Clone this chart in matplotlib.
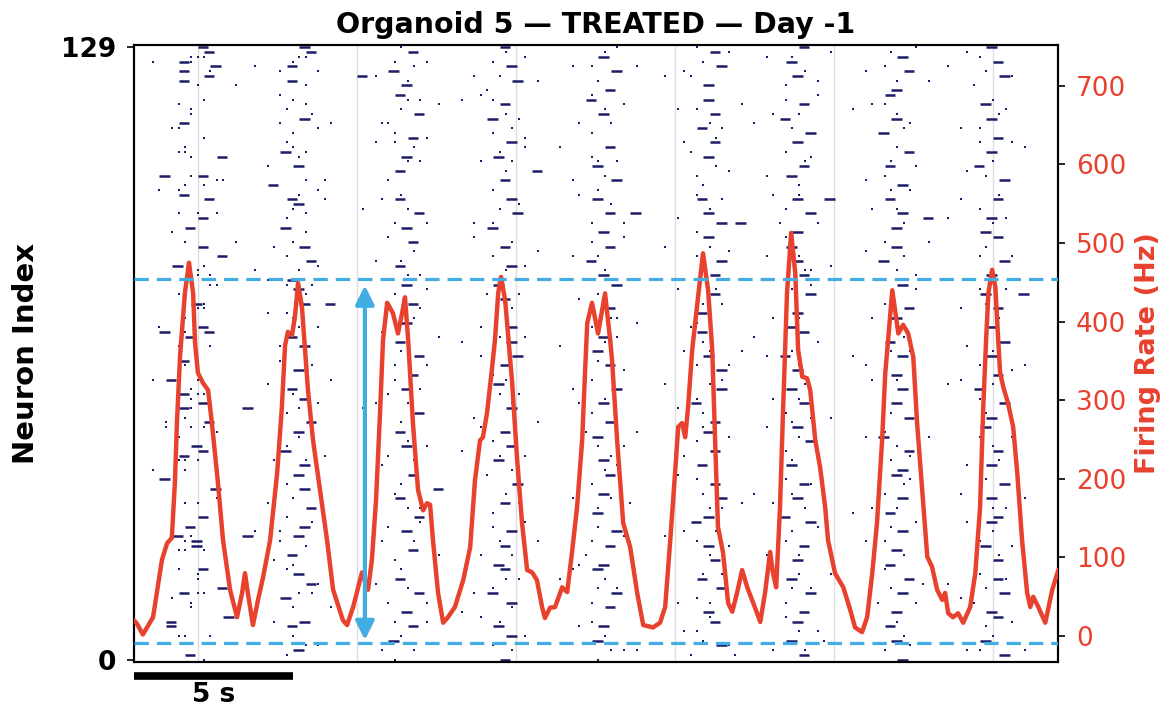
import matplotlib.pyplot as plt

# ------------------------------
# Data
# time axis in seconds from the left edge of the panel
t_max = 29.05
grid_times = [2, 7, 12, 17, 22, 27]

rate_t = [0.0, 0.09, 0.28, 0.60, 0.88, 1.04, 1.19, 1.29, 1.35, 1.45,
          1.60, 1.73, 1.86, 1.92, 2.01, 2.17, 2.33, 2.45, 2.64, 2.80,
          3.02, 3.24, 3.40, 3.49, 3.58, 3.74, 3.90, 4.06, 4.28, 4.50,
          4.65, 4.75, 4.84, 4.97, 5.06, 5.16, 5.28, 5.38, 5.47, 5.63,
          5.85, 6.07, 6.26, 6.57, 6.70, 6.89, 7.17, 7.36, 7.48, 7.61,
          7.74, 7.83, 7.96, 8.14, 8.30, 8.43, 8.52, 8.62, 8.77, 8.93,
          9.09, 9.21, 9.31, 9.40, 9.56, 9.72, 9.87, 10.09, 10.35, 10.57,
          10.72, 10.88, 10.97, 11.10, 11.26, 11.35, 11.45, 11.54, 11.67, 11.82,
          11.89, 12.04, 12.20, 12.36, 12.52, 12.67, 12.83, 12.92, 13.08, 13.24,
          13.46, 13.62, 13.77, 13.93, 14.09, 14.18, 14.25, 14.40, 14.59, 14.81,
          14.97, 15.03, 15.19, 15.38, 15.60, 15.82, 16.01, 16.32, 16.54, 16.70,
          16.86, 17.01, 17.11, 17.23, 17.33, 17.42, 17.55, 17.70, 17.89, 18.05,
          18.18, 18.27, 18.36, 18.52, 18.68, 18.81, 18.96, 19.12, 19.28, 19.47,
          19.69, 19.84, 20.00, 20.09, 20.19, 20.31, 20.41, 20.53, 20.66, 20.79,
          20.88, 21.01, 21.16, 21.26, 21.42, 21.57, 21.73, 21.82, 22.04, 22.30,
          22.52, 22.67, 22.89, 23.05, 23.21, 23.36, 23.52, 23.62, 23.71, 23.84,
          24.03, 24.18, 24.34, 24.50, 24.62, 24.78, 24.94, 25.09, 25.25, 25.41,
          25.50, 25.60, 25.75, 25.91, 26.07, 26.29, 26.45, 26.60, 26.70, 26.79,
          26.86, 26.98, 27.08, 27.17, 27.23, 27.33, 27.48, 27.64, 27.77, 27.92,
          28.08, 28.18, 28.27, 28.43, 28.65, 28.87, 29.06]
rate_hz = [20, 16, 2, 24, 97, 118, 125, 198, 271, 357,
           436, 475, 436, 373, 335, 322, 313, 271, 195, 122,
           59, 24, 55, 80, 55, 14, 46, 75, 122, 207,
           291, 370, 387, 383, 406, 449, 419, 364, 313, 249,
           186, 122, 59, 20, 14, 37, 81, 59, 97, 173,
           288, 377, 424, 411, 385, 411, 431, 377, 271, 186,
           160, 169, 167, 122, 55, 17, 24, 37, 71, 113,
           198, 249, 253, 284, 342, 377, 436, 457, 427, 355,
           322, 228, 144, 84, 81, 71, 37, 23, 36, 37,
           62, 56, 106, 164, 249, 335, 398, 424, 385, 436,
           377, 351, 249, 144, 113, 55, 14, 11, 17, 37,
           122, 207, 266, 271, 253, 291, 364, 419, 487, 440,
           364, 249, 139, 106, 42, 31, 55, 84, 62, 42,
           18, 55, 107, 80, 62, 164, 291, 436, 513, 462,
           364, 330, 328, 313, 249, 215, 164, 122, 80, 62,
           33, 11, 5, 24, 80, 144, 249, 335, 377, 440,
           385, 396, 385, 355, 271, 186, 101, 88, 59, 46,
           55, 29, 24, 29, 17, 37, 80, 164, 291, 377,
           436, 466, 444, 377, 335, 317, 296, 266, 207, 122,
           55, 37, 50, 37, 17, 59, 84]

# dashed reference levels (Hz) and the amplitude arrow
level_hi = 454
level_lo = -9
arrow_t = 7.26

# Raster: one entry per burst, each a list of layers; a layer has one char per
# neuron from 129 down to 0. '.' = nothing, lowercase = single spike,
# uppercase = short run of spikes; letter index = offset from burst start in 0.2 s.
burst_start = [0.0, 3.4, 6.8, 9.9, 13.0, 16.3, 19.1, 22.2, 25.2]

burst1 = [
    "KLjHMHLHk. .lhjj.Hg.l .ihj...Eni eHL..hK.Ig .iK.N.Gkj. m.h.Jk.i.e EI.h..Hi.h F.jHjKH.iL jnh.JKHh.d .E.M.ni..K .I.GiJh... Kkk.NHgjj. OFF.h...Il",
    "..kd.m..q. .......h.. ..iN...jol h....k.... .q....l.k. n...ll...K i..m...... k..k..j..f f......i.i ......k... ...jJ.i... h....k.... ....i.....",
    "..lj...... .......... .......K.. .....n.... ........m. .......... L......... d..l..R... l......k.. .......... ...R..l... .....l.... ....m.....",
]
burst2 = [
    "JKjiHg.Hk. .ikh.Jg.i. hiGj.I..kE .jHIi.h.Gk .iJ.hK.j.H hIk.J.hi.j iH.Jk.g.I. k.HiJ.jh.K .Ij.hG.kJ. I.hJ.i.K.h .JgI.k.H.i hI.K.jG.i. .JH.i.kIh.",
    "..k..m.... g...l..m.. ..k..e..n. m....k.... ..f...m..e l.....e..m ...g...l.. .e...m.... ...l...f.. .m....e... l...g...f. ...m.l.... .f....m...",
    "....c..... ......o... .......... ..n....... .......c.. ....N..... .......... o......... ......n... .......... ..c....... ........o. ..........",
]
burst3 = [
    "iJ.hkG.jI. Hj.iK.g.hJ hk.Ij.H.g. .iH.jK.hI. gJ.k.iH.j. I.h.Jg.kI. .jH.iK.h.J h.Ig.j.K.i .H.jI.gk.. J.i.hH.j.K .gI.k.J.h. i.H.jK.g.I .hJ.iG.k.h",
    "...m..e... .l....f..m e...l..... ..f....m.. .....e..l. .m...l.... f......m.. ..l..e.... ....m...f. .e.....l.. l...f..... ...e...m.. .m.....f..",
    "......B... ..o....... .......... ....c..... .........n .......... .o........ ......c... .......... ...N...... .......o.. .......... .c........",
]
burst4 = [
    "Ij.hJ.iK.g .hI.jG.kh. J.iHk.j.I. h.J.iK.hG. .kI.h.Jj.i H.gI.k.j.J .iJ.hK.I.h jH.i.kJ.g. .I.hJ.iH.k g.K.j.I.h. .hJ.iI.k.H I.j.hG.Jk. .iH.J.hk.I",
    "..m...e... f....l...m .m..f..... ...l...e.. e.....m... ..l......f .m...f.... ...l....e. f.....m... ..e...l... m......f.. ..l..e.... f...m.....",
    ".......o.. .c........ ......N... .......... ...o...... .......... ..c....... .........o .....c.... .......... ....o..... .........c ..........",
]
burst5 = [
    ".jI.hK.i.J hG.jI.k.h. .J.hiH.jK. i.Hk.J.h.I .hJ.iG.jI. K.i.hJ.k.h .Ij.H.iJ.g h.K.jI.h.J .gH.i.kI.j J.h.Ik.iH. .iK.hJ.g.I H.j.iK.hJ. .hI.jH.k.i",
    "l...e..... ..m...f... ....l...e. .f.....m.. m...e..... ...f...l.. .l......m. ..e..f.... ....m...l. .f...e.... ...m.....f e...l..... ..f....m..",
    "....o..... .......... .c........ .....N.... .......... ........o. ...c...... .......... .o........ ......n... .......... ..c....... .......o..",
]
burst6 = [
    "hJ.iK.g.I. .I.hJ.jH.k J.gI.k.h.i .hH.jI.K.h I.j.hK.iJ. .kJ.i.H.hg H.i.jI.hK. .jK.hG.i.J iI.h.J.kH. .hJ.iK.j.I G.k.hI.jJ. .iH.K.hj.I jJ.h.iK.g.",
    ".m...f.... ...e...l.. f.....m... ..l...e... ...m.....f .e..l..... ....f..m.. l.....e... ..m...f... e......l.. ..f..m.... .l.....e.. ...f..m...",
    "......c... ..o....... .......... .......N.. ..c....... .......... ....o..... .c........ .......... ......o... ...c...... .......... ........n.",
]
burst7 = [
    "J.iH.kI.h. .hJ.jG.iK. I.h.kJ.H.j .jI.hK.g.I h.H.jI.kJ. .iK.h.Ij.H J.h.iG.jI. .kH.jJ.h.i I.jK.h.iH. .hJ.iI.k.G K.i.hJ.jI. .jH.iK.h.J hI.j.H.kJ.",
    "..e....m.. m...f..... ...l...e.. .f.....m.. ....e..l.. l......f.. ..m..e.... ....f...l. e......m.. ..l...f... .m.....e.. f...l..... ...m...f..",
    ".o........ ......c... .......... ..N....... ......o... .......... .c........ ........o. .......... ....c..... .......... .o........ .....n....",
]
burst8 = [
    ".iJ.hK.j.I H.h.jI.kG. .jK.iH.h.J i.H.jJ.kI. .hI.kG.j.h J.i.hK.Ij. .kH.iJ.h.I j.J.hI.iK. .hG.jK.i.J I.k.hJ.jH. .iJ.h.Ik.H h.K.iJ.g.I .jH.kI.h.J",
    "m....e.... ..f...l... .....m..e. l...f..... ...e....m. .m.....f.. ....l..e.. f......m.. ..e...l... .l.....f.. m...e..... ...f...m.. e.....l...",
    ".......o.. ...c...... .......... ......N... .o........ .......... .....c.... .......... ..o....... ........c. .......... ...n...... ..........",
]
burst9 = [
    "I.hJ.iK.g. .jH.kI.h.J h.I.jG.iK. .kJ.h.Ij.H J.i.hK.jI. .hH.iJ.k.I i.K.jI.h.J .jG.hK.iI. H.h.jJ.kI. .iK.hI.j.J I.j.hH.kJ. .hJ.iK.g.I J.i.jH.hK.",
    ".f....m... ...l...e.. m.....f... ..e...l... ....m....f .l...e.... ...f....m. e...l..... ..m.....f. ....e..l.. f....m.... ..l...e... .m.....f..",
    "....c..... .......... .o........ ......c... .......... ..N....... .......o.. .c........ .......... .....o.... .......... ...c...... .......o..",
]
bursts = [burst1, burst2, burst3, burst4, burst5, burst6, burst7, burst8, burst9]

RASTER_C = "#1c1c68"
RATE_C = "#e8412e"
GUIDE_C = "#41ade2"

# ------------------------------
# Decode raster
dot_t, dot_n = [], []
dash_t, dash_n = [], []
for start, layers in zip(burst_start, bursts):
    for layer in layers:
        row = layer.replace(" ", "")
        for i, ch in enumerate(row):
            if ch == ".":
                continue
            t = start + 0.2 * (ord(ch.lower()) - ord("a"))
            if ch.isupper():
                dash_t.append(t)
                dash_n.append(129 - i)
            else:
                dot_t.append(t)
                dot_n.append(129 - i)

# ------------------------------
# Figure
fg = plt.figure(figsize=(11.67, 7.10), dpi=100)
ax = fg.add_axes([0.1148, 0.0676, 0.7918, 0.869])

ax.hlines(dash_n, dash_t, [t + 0.33 for t in dash_t], color=RASTER_C, lw=1.8, zorder=2)
ax.plot(dot_t, dot_n, "s", ms=1.7, color=RASTER_C, mew=0, zorder=2)

ax.set_xlim(0, t_max)
ax.set_ylim(-0.5, 129.5)
ax.set_xticks(grid_times)
ax.tick_params(axis="x", length=0, labelbottom=False)
ax.grid(axis="x", color="#dedede", lw=1.0, zorder=0)
ax.set_axisbelow(True)
ax.set_yticks([0, 129])
ax.set_yticklabels(["0", "129"], fontsize=19, fontweight="bold")
ax.tick_params(axis="y", length=5, width=1.2, pad=8)
ax.set_ylabel("Neuron Index", fontsize=21, fontweight="bold")
ax.yaxis.set_label_coords(-0.102, 0.5)
for sp in ax.spines.values():
    sp.set_linewidth(1.5)
ax.set_title("Organoid 5 \u2014 TREATED \u2014 Day -1", fontsize=20.5, fontweight="bold", pad=9)

# scale bar
ax.plot([0, 5], [-0.023, -0.023], color="k", lw=5.5, solid_capstyle="butt",
        transform=ax.get_xaxis_transform(), clip_on=False)
ax.text(2.5, -0.054, "5 s", fontsize=19, fontweight="bold", ha="center", va="center",
        transform=ax.get_xaxis_transform())

# ------------------------------
# Firing rate on the right axis
ax2 = ax.twinx()
ax2.plot(rate_t, rate_hz, color=RATE_C, lw=3.2, solid_joinstyle="round",
         solid_capstyle="round", zorder=3)
ax2.axhline(level_hi, color=GUIDE_C, lw=2.3, ls=(0, (4.5, 2.5)), zorder=4)
ax2.axhline(level_lo, color=GUIDE_C, lw=2.3, ls=(0, (4.5, 2.5)), zorder=4)
ax2.annotate("", xy=(arrow_t, -5), xytext=(arrow_t, 446),
             arrowprops=dict(arrowstyle="<|-|>", color=GUIDE_C, lw=3, mutation_scale=28,
                             shrinkA=0, shrinkB=0), zorder=5)
ax2.set_ylim(-33, 752)
ax2.set_xlim(0, t_max)
ax2.set_yticks(range(0, 701, 100))
ax2.tick_params(axis="y", labelsize=19, labelcolor=RATE_C, length=5, width=1.2, pad=8)
ax2.set_ylabel("Firing Rate (Hz)", fontsize=19.5, fontweight="bold", color=RATE_C)
ax2.yaxis.set_label_coords(1.083, 0.5)
for sp in ax2.spines.values():
    sp.set_linewidth(1.5)

fg.savefig("out.png", dpi=100)
